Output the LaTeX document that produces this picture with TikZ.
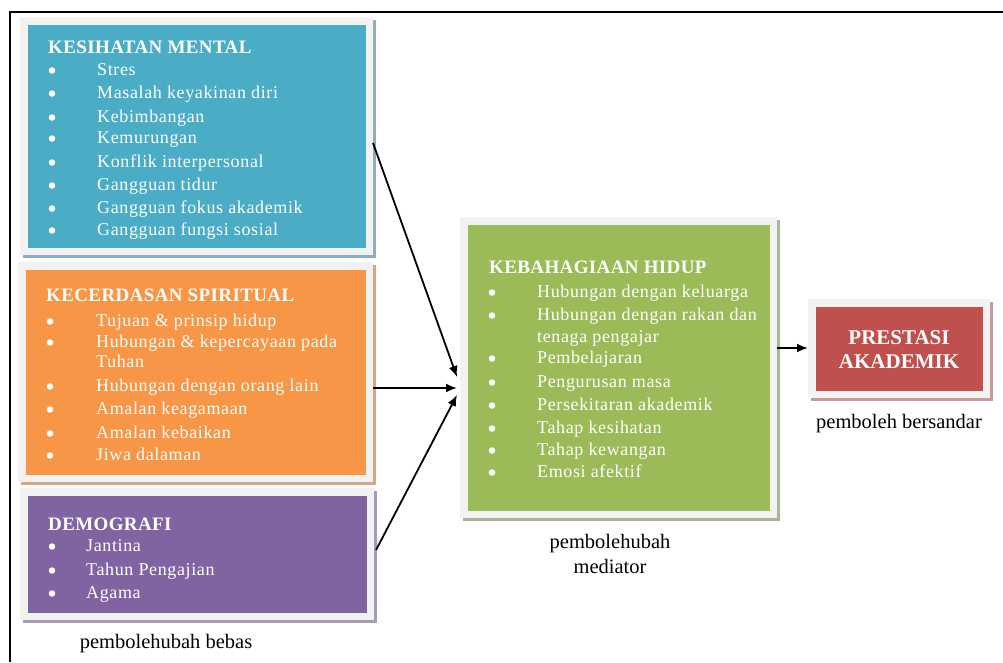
\documentclass[tikz,border=0pt]{standalone}
\usepackage{fontspec}
\setmainfont{Liberation Serif}
\usetikzlibrary{arrows.meta,shadows}

\definecolor{kmblue}{HTML}{4BACC6}
\definecolor{ksorange}{HTML}{F79646}
\definecolor{dmpurple}{HTML}{8064A2}
\definecolor{khgreen}{HTML}{9BBB59}
\definecolor{pared}{HTML}{C0504D}
\definecolor{panelgray}{HTML}{F2F2F2}
\definecolor{kmshade}{HTML}{8FACB8}
\definecolor{ksshade}{HTML}{D6A684}
\definecolor{dmshade}{HTML}{A59DB4}
\definecolor{khshade}{HTML}{A8B596}
\definecolor{pashade}{HTML}{C49B9B}

\tikzset{
  panel/.style 2 args={fill=panelgray, draw=none, inner sep=0pt, outer sep=0pt,
    general shadow={fill=#2, shadow xshift=3pt, shadow yshift=-3pt},
    path picture={\fill[#1] ([shift={(7.5pt,-7.5pt)}]path picture bounding box.north west)
      rectangle ([shift={(-7.5pt,7.5pt)}]path picture bounding box.south east);}},
  ttl/.style={anchor=base west, inner sep=0pt, text=white,
    font=\fontsize{19}{21}\selectfont\bfseries\addfontfeature{LetterSpace=2}},
  itm/.style={anchor=base west, inner sep=0pt, text=white,
    font=\fontsize{18}{20}\selectfont\addfontfeature{LetterSpace=3.5}},
  bul/.style={circle, fill=white, draw=none, inner sep=0pt, minimum size=6.5pt},
  lbl/.style={inner sep=0pt, text=black, align=center, font=\fontsize{20.5}{23}\selectfont},
  arr/.style={line width=1.8pt, -{Latex[length=11pt,width=9pt]}},
}

\begin{document}
\begin{tikzpicture}[x=1pt,y=-1pt]
\useasboundingbox (0,0) rectangle (1003,662);
\fill[white] (0,0) rectangle (1003,662);

% outer frame
\draw[line width=2pt] (10,662) -- (10,12) -- (1003,12);

% panels
\node[panel={kmblue}{kmshade}, minimum width=353pt, minimum height=238pt] (km) at (196.5,136) {};
\node[panel={ksorange}{ksshade}, minimum width=355pt, minimum height=220pt] (ks) at (195.5,372) {};
\node[panel={dmpurple}{dmshade}, minimum width=354pt, minimum height=132pt] (dm) at (197,554) {};
\node[panel={khgreen}{khshade}, minimum width=317pt, minimum height=301pt] (kh) at (618.5,367.5) {};
\node[panel={pared}{pashade}, minimum width=182pt, minimum height=99pt] (pa) at (899,348.5) {};

% KESIHATAN MENTAL
\node[ttl] (km-t) at (48,53) {KESIHATAN MENTAL};
\foreach \n/\y/\t in {1/75/Stres, 2/98/Masalah keyakinan diri, 3/122/Kebimbangan,
    4/143/Kemurungan, 5/167/Konflik interpersonal, 6/190/Gangguan tidur,
    7/213/Gangguan fokus akademik, 8/235/Gangguan fungsi sosial}{
  \node[bul] (km-b\n) at (52,\y-4.5) {};
  \node[itm] (km-\n) at (97,\y) {\t};
}

% KECERDASAN SPIRITUAL
\node[ttl] (ks-t) at (46,301) {KECERDASAN SPIRITUAL};
\foreach \n/\y/\t in {1/326/Tujuan \& prinsip hidup, 2/347/Hubungan \& kepercayaan pada,
    3/391/Hubungan dengan orang lain, 4/414/Amalan keagamaan,
    5/438/Amalan kebaikan, 6/460/Jiwa dalaman}{
  \node[bul] (ks-b\n) at (50,\y-4.5) {};
  \node[itm] (ks-\n) at (96,\y) {\t};
}
\node[itm] (ks-2c) at (96,367) {Tuhan};

% DEMOGRAFI
\node[ttl] (dm-t) at (48,530) {DEMOGRAFI};
\foreach \n/\y/\t in {1/551/Jantina, 2/575/Tahun Pengajian, 3/598/Agama}{
  \node[bul] (dm-b\n) at (52,\y-4.5) {};
  \node[itm] (dm-\n) at (86,\y) {\t};
}

% KEBAHAGIAAN HIDUP
\node[ttl] (kh-t) at (489,273) {KEBAHAGIAAN HIDUP};
\foreach \n/\y/\t in {1/297/Hubungan dengan keluarga, 2/320/Hubungan dengan rakan dan,
    3/363/Pembelajaran, 4/387/Pengurusan masa, 5/410/Persekitaran akademik,
    6/433/Tahap kesihatan, 7/455/Tahap kewangan, 8/477/Emosi afektif}{
  \node[bul] (kh-b\n) at (492,\y-4.5) {};
  \node[itm] (kh-\n) at (537,\y) {\t};
}
\node[itm] (kh-2c) at (537,342) {tenaga pengajar};

% PRESTASI AKADEMIK
\node[anchor=base, inner sep=0pt, text=white, font=\fontsize{21}{24}\selectfont\bfseries] (pa-1) at (899,344) {PRESTASI};
\node[anchor=base, inner sep=0pt, text=white, font=\fontsize{21}{24}\selectfont\bfseries] (pa-2) at (899,368) {AKADEMIK};

% variable-role labels
\node[lbl, anchor=base] (lb-bebas) at (166,648) {pembolehubah bebas};
\node[lbl, anchor=base] (lb-med1) at (610,548) {pembolehubah};
\node[lbl, anchor=base] (lb-med2) at (610,573) {mediator};
\node[lbl, anchor=base] (lb-sandar) at (899,428) {pemboleh bersandar};

% connectors
\draw[arr] ([yshift=-7pt]km.east) -- ([shift={(-3pt,-9.5pt)}]kh.west);
\draw[arr] ([yshift=-16pt]ks.east) -- ([shift={(-3pt,-20.5pt)}]kh.west);
\draw[arr] ([shift={(2pt,4pt)}]dm.east) -- ([shift={(-3pt,-27.5pt)}]kh.west);
\draw[arr] ([yshift=19.5pt]kh.east) -- (pa.west |- 0,348);
\end{tikzpicture}
\end{document}
